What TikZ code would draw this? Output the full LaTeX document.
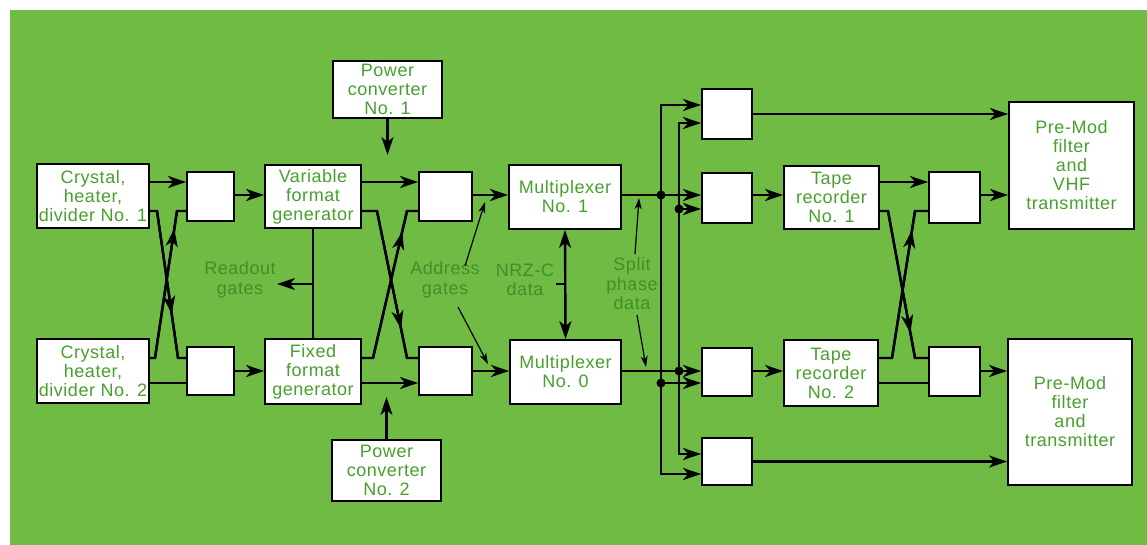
\documentclass[tikz,border=0pt]{standalone}
\usepackage{fontspec}
\setmainfont{Liberation Sans}[LetterSpace=3]
\usetikzlibrary{arrows.meta,shadows,decorations.markings}
\definecolor{bg}{RGB}{112,187,68}
\definecolor{txt}{RGB}{72,160,46}
\definecolor{lblc}{RGB}{60,146,38}
\tikzset{
  box/.style={draw, line width=1.8pt, fill=white, text=txt, align=center, inner sep=0pt,
    font={\fontsize{18}{19}\selectfont},
    drop shadow={shadow xshift=1.3pt, shadow yshift=-1.3pt, fill=black, opacity=1}},
  lbl/.style={text=lblc, align=center, inner sep=0pt, font={\fontsize{18}{19.5}\selectfont}},
  conn/.style={line width=2.4pt, line join=miter},
  tipbig/.tip={Stealth[length=18pt,width=12pt,inset=5pt]},
  arr/.style={conn, -tipbig},
  dbl/.style={conn, tipbig-tipbig},
  thinarr/.style={line width=1.2pt, -{Stealth[length=11pt,width=7pt,inset=3pt]}},
  midarr/.style={postaction={decorate, decoration={markings,
     mark=at position #1 with {\arrow{tipbig}}}}},
  jdot/.style={circle, fill=black, inner sep=0pt, minimum size=9pt}
}
\begin{document}
\begin{tikzpicture}[x=1pt,y=-1pt]
\useasboundingbox (0,0) rectangle (1147,545);
\fill[bg] (10,10) rectangle (1147,545);
% rows
\coordinate (yA) at (0,182);
\coordinate (yB) at (0,195);
\coordinate (yC) at (0,211);
\coordinate (yD) at (0,358);
\coordinate (yE) at (0,371);
\coordinate (yF) at (0,383);
% boxes
\node[box, minimum width=112pt, minimum height=64pt] (cr1) at (93,196) {Crystal,\\heater,\\divider No. 1};
\node[box, minimum width=112pt, minimum height=64pt] (cr2) at (93,371) {Crystal,\\heater,\\divider No. 2};
\node[box, minimum width=47pt, minimum height=49pt] (a1) at (210.5,196.5) {};
\node[box, minimum width=47pt, minimum height=48pt] (a2) at (210.5,371) {};
\node[box, minimum width=96pt, minimum height=63pt] (vfg) at (313,196.5) {Variable\\format\\generator};
\node[box, minimum width=96pt, minimum height=65pt] (ffg) at (313,371.5) {Fixed\\format\\generator};
\node[box, minimum width=109pt, minimum height=57pt] (pc1) at (387.5,89.5) {Power\\converter\\No. 1};
\node[box, minimum width=109pt, minimum height=61pt] (pc2) at (386.5,470.5) {Power\\converter\\No. 2};
\node[box, minimum width=53pt, minimum height=49pt] (b1) at (445.5,196.5) {};
\node[box, minimum width=53pt, minimum height=48pt] (b2) at (445.5,371) {};
\node[box, minimum width=112pt, minimum height=64pt] (m1) at (565,197) {Multiplexer\\No. 1};
\node[box, minimum width=111pt, minimum height=64pt] (m0) at (565.5,372) {Multiplexer\\No. 0};
\node[box, minimum width=50pt, minimum height=50pt] (c1) at (727,114) {};
\node[box, minimum width=50pt, minimum height=50pt] (c2) at (727,198) {};
\node[box, minimum width=50pt, minimum height=48pt] (c3) at (727,372) {};
\node[box, minimum width=50pt, minimum height=47pt] (c4) at (727,461.5) {};
\node[box, minimum width=95pt, minimum height=63pt] (tr1) at (831.5,197.5) {Tape\\recorder\\No. 1};
\node[box, minimum width=94pt, minimum height=66pt] (tr2) at (831,373) {Tape\\recorder\\No. 2};
\node[box, minimum width=51pt, minimum height=51pt] (d1) at (954.5,197.5) {};
\node[box, minimum width=51pt, minimum height=49pt] (d2) at (954.5,371.5) {};
\node[box, minimum width=125pt, minimum height=127pt] (pm1) at (1071.5,165.5) {Pre-Mod\\filter\\and\\VHF\\transmitter};
\node[box, minimum width=124pt, minimum height=146pt] (pm2) at (1070,412) {Pre-Mod\\filter\\and\\transmitter};
% labels
\node[lbl] (ro) at (240,280) {Readout\\gates};
\node[lbl] (ad) at (445,280) {Address\\gates};
\node[lbl] (nrz) at (525,280) {NRZ-C\\data};
\node[lbl] (sp) at (632,284) {Split\\phase\\data};
% left section
\draw[arr] (cr1.east |- yA) -- (a1.west |- yA);
\draw[conn] (cr1.east |- yC) -- (157,211) -- (178,358) -- (a2.west |- yD);
\draw[conn, midarr=0.7] (157,211) -- (178,358);
\draw[conn] (cr2.east |- yD) -- (155,358) -- (177,211) -- (a1.west |- yC);
\draw[conn, midarr=0.88] (155,358) -- (177,211);
\draw[conn] (cr2.east |- yF) -- (a2.west |- yF);
\draw[arr] (a1.east |- yB) -- (vfg.west |- yB);
\draw[arr] (a2.east |- yE) -- (ffg.west |- yE);
% readout gates
\coordinate (roTip) at (277,284);
\draw[conn] (vfg.south) -- (ffg.north);
\draw[arr] (vfg.south |- roTip) -- (roTip);
% power converters
\coordinate (pc1Tip) at (387,155);
\coordinate (pc2Tip) at (386,397);
\draw[arr] (pc1.south) -- (pc1.south |- pc1Tip);
\draw[arr] (pc2.north) -- (pc2.north |- pc2Tip);
% middle crossing
\draw[arr] (vfg.east |- yA) -- (b1.west |- yA);
\draw[conn] (vfg.east |- yC) -- (377,211) -- (407,358) -- (b2.west |- yD);
\draw[conn, midarr=0.8] (377,211) -- (407,358);
\draw[conn] (ffg.east |- yD) -- (373,358) -- (407,211) -- (b1.west |- yC);
\draw[conn, midarr=0.86] (373,358) -- (407,211);
\draw[arr] (ffg.east |- yF) -- (b2.west |- yF);
\draw[arr] (b1.east |- yB) -- (m1.west |- yB);
\draw[arr] (b2.east |- yE) -- (m0.west |- yE);
% address gates pointers
\coordinate (adA) at (465,266);
\coordinate (adAt) at (485,202);
\coordinate (adB) at (458,307);
\coordinate (adBt) at (488,364);
\draw[thinarr] (adA) -- (adAt);
\draw[thinarr] (adB) -- (adBt);
% NRZ-C
\coordinate (nrzT) at (556,284);
\draw[dbl] (m1.south) -- (m0.north);
\draw[conn] (nrzT) -- (m1.south |- nrzT);
% multiplexer outputs
\coordinate (j1) at (661,195);
\coordinate (j2) at (679,209);
\coordinate (j3) at (679,371);
\coordinate (j4) at (661,383);
\draw[arr] (m1.east |- yB) -- (c2.west |- yB);
\draw[arr] (j1) |- (c1.west |- 0,105);
\draw[arr] (j1) |- (c4.west |- 0,474);
\draw[arr] (j2) -- (c2.west |- j2);
\draw[arr] (m0.east |- yE) -- (c3.west |- yE);
\draw[arr] (j3) |- (c1.west |- 0,123);
\draw[arr] (j3) |- (c4.west |- 0,454);
\draw[arr] (j4) -- (c3.west |- j4);
\node[jdot] (dj1) at (j1) {};
\node[jdot] (dj2) at (j2) {};
\node[jdot] (dj3) at (j3) {};
\node[jdot] (dj4) at (j4) {};
% split phase pointers
\coordinate (spA) at (635,254);
\coordinate (spAt) at (639,198);
\coordinate (spB) at (637,315);
\coordinate (spBt) at (646,367);
\draw[thinarr] (spA) -- (spAt);
\draw[thinarr] (spB) -- (spBt);
% right section
\draw[arr] (c1.east) -- (pm1.west |- c1.east);
\draw[arr] (c2.east |- yB) -- (tr1.west |- yB);
\draw[arr] (c3.east |- yE) -- (tr2.west |- yE);
\draw[arr] (c4.east) -- (pm2.west |- c4.east);
\draw[arr] (tr1.east |- yA) -- (d1.west |- yA);
\draw[conn] (tr1.east |- yC) -- (888,211) -- (915,358) -- (d2.west |- yD);
\draw[conn, midarr=0.83] (888,211) -- (915,358);
\draw[conn] (tr2.east |- yD) -- (892,358) -- (915,211) -- (d1.west |- yC);
\draw[conn, midarr=0.87] (892,358) -- (915,211);
\draw[conn] (tr2.east |- yF) -- (d2.west |- yF);
\draw[arr] (d1.east |- yB) -- (pm1.west |- yB);
\draw[arr] (d2.east |- yE) -- (pm2.west |- yE);
\end{tikzpicture}
\end{document}
